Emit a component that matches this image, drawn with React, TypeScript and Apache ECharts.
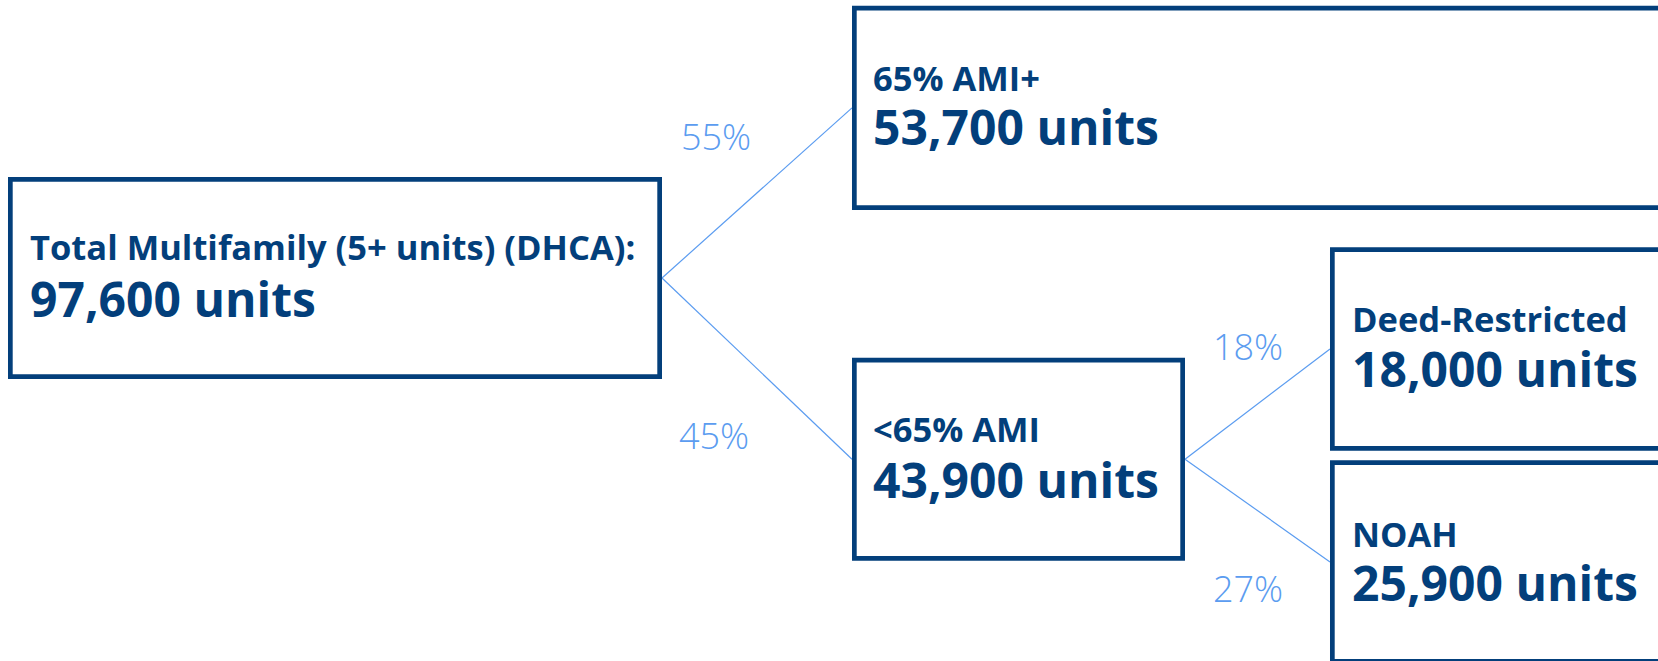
import React, { useEffect, useRef } from "react";
import * as echarts from "echarts";

// ---- data ----
const nodeLabels = [
  "Total Multifamily (5+ units) (DHCA):",
  "65% AMI+",
  "<65% AMI",
  "Deed-Restricted",
  "NOAH",
];
const nodeUnits = [97600, 53700, 43900, 18000, 25900];
const linkSource = [0, 0, 2, 2];
const linkTarget = [1, 2, 3, 4];
const linkShare = [55, 45, 18, 27];

// ---- layout (outer box edges, px) ----
const boxLeft = [8, 852, 852, 1330, 1330];
const boxTop = [177, 5.7, 357.7, 247.3, 460.3];
const boxRight = [662, 1720, 1185, 1720, 1720];
const boxBottom = [379, 210, 560.7, 450.7, 663.6];
const textLeft = [30, 873, 873, 1352, 1352];
const labelMid = [246.5, 77, 428.5, 318, 533];
const valueMid = [298, 126.5, 479, 368.5, 582];
const shareX = [716, 714, 1248, 1248];
const shareY = [136, 435, 346, 588];

const NAVY = "#033f7b";
const LIGHT = "#5b9cf0";
const BORDER = 4.7;
const FONT = "'Open Sans', 'Noto Sans', sans-serif";

function fmt(n: number) {
  return n.toLocaleString("en-US") + " units";
}

export default function App() {
  const ref = useRef<HTMLDivElement>(null);
  useEffect(() => {
    document.body.style.margin = "0";
    if (!ref.current) return;
    const chart = echarts.init(ref.current, null, { renderer: "svg" });
    const els: any[] = [];
    // links
    linkSource.forEach((s, i) => {
      const t = linkTarget[i];
      els.push({
        type: "line",
        shape: {
          x1: boxRight[s],
          y1: (boxTop[s] + boxBottom[s]) / 2,
          x2: boxLeft[t],
          y2: (boxTop[t] + boxBottom[t]) / 2,
        },
        style: { stroke: LIGHT, lineWidth: 1.2 },
      });
      els.push({
        type: "text",
        x: shareX[i],
        y: shareY[i],
        style: {
          text: linkShare[i] + "%",
          fill: LIGHT,
          fontSize: 36,
          fontWeight: 300,
          fontFamily: FONT,
          align: "center",
          verticalAlign: "middle",
        },
      });
    });
    // boxes
    nodeLabels.forEach((lab, i) => {
      els.push({
        type: "rect",
        shape: {
          x: boxLeft[i] + BORDER / 2,
          y: boxTop[i] + BORDER / 2,
          width: boxRight[i] - boxLeft[i] - BORDER,
          height: boxBottom[i] - boxTop[i] - BORDER,
        },
        style: { fill: "#ffffff", stroke: NAVY, lineWidth: BORDER },
      });
      els.push({
        type: "text",
        x: textLeft[i],
        y: labelMid[i],
        style: {
          text: lab,
          fill: NAVY,
          fontSize: 34.5,
          fontWeight: "bold",
          fontFamily: FONT,
          align: "left",
          verticalAlign: "middle",
        },
      });
      els.push({
        type: "text",
        x: textLeft[i],
        y: valueMid[i],
        style: {
          text: fmt(nodeUnits[i]),
          fill: NAVY,
          fontSize: 48,
          fontWeight: "bold",
          fontFamily: FONT,
          align: "left",
          verticalAlign: "middle",
        },
      });
    });
    chart.setOption({
      animation: false,
      backgroundColor: "#ffffff",
      graphic: { elements: els },
    });
    return () => chart.dispose();
  }, []);
  return <div ref={ref} style={{ width: 1658, height: 661 }} />;
}
